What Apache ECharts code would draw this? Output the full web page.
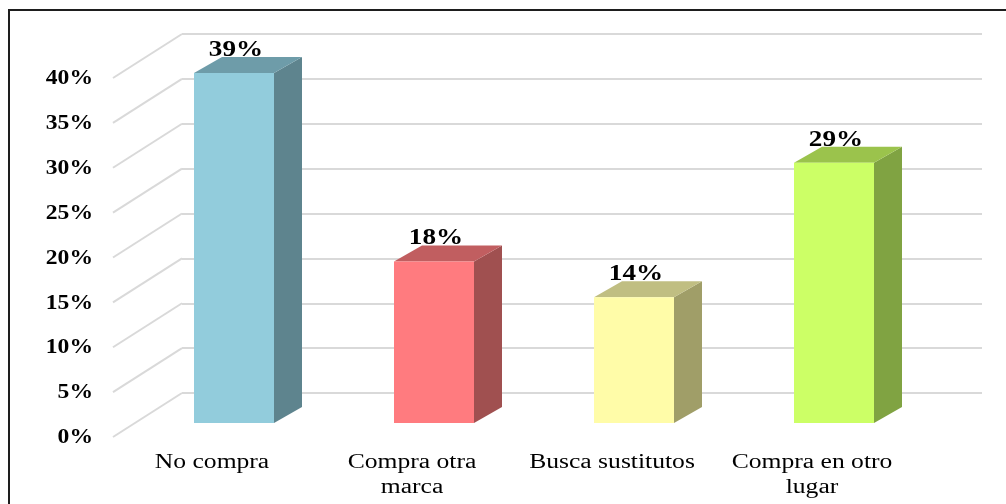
<!DOCTYPE html>
<html>
<head>
<meta charset="utf-8">
<title>Reacción ante la falta del producto</title>
<script src="https://cdn.jsdelivr.net/npm/echarts@6/dist/echarts.min.js"></script>
<style>
  html, body { margin: 0; padding: 0; background: #ffffff; }
  #chart { width: 1006px; height: 504px; }
</style>
</head>
<body>
<div id="chart"></div>
<script>
// ---- data ----
const categories = ['No compra', 'Compra otra\nmarca', 'Busca sustitutos', 'Compra en otro\nlugar'];
const values = [39, 18, 14, 29];
const yTicks = [0, 5, 10, 15, 20, 25, 30, 35, 40];

// ---- colours per bar: front face, top face, side face ----
const frontColors = ['#92CCDC', '#FF7B7F', '#FFFCA8', '#CCFF66'];
const topColors   = ['#6E9CA9', '#C15E60', '#C0BE82', '#9BC34C'];
const sideColors  = ['#5E848E', '#A05050', '#A09E68', '#80A342'];

// ---- oblique projection helpers ----
const DEPTH = [-69, 44];       // floor depth: back wall -> front edge
const BAR_FRONT = [-48, 30];   // bar front face, measured from the back wall
const BAR_SIDE = [28, -16];    // bar thickness drawn towards the back
const BAR_HALF = 0.2;          // half bar width, in category units
const GRID_COLOR = '#D9D9D9';
const SERIF = '"Liberation Serif", "Times New Roman", serif';

const chart = echarts.init(document.getElementById('chart'), null, { renderer: 'canvas' });

const option = {
  backgroundColor: '#ffffff',
  animation: false,
  graphic: [{
    type: 'rect',
    silent: true,
    shape: { x: 9, y: 10, width: 1100, height: 600 },
    style: { fill: null, stroke: '#1e1e1e', lineWidth: 2 }
  }],
  grid: [
    { left: 182, top: 34, width: 800, height: 359 },   // back wall
    { left: 113, top: 78, width: 800, height: 359 }    // front edge of the floor
  ],
  xAxis: [
    { gridIndex: 0, type: 'value', min: -0.5, max: 3.5, show: false },
    { gridIndex: 1, type: 'value', min: -0.5, max: 3.5, show: false }
  ],
  yAxis: [
    {
      gridIndex: 0, type: 'value', min: 0, max: 40, interval: 5,
      axisLine: { show: false }, axisTick: { show: false }, axisLabel: { show: false },
      splitLine: { lineStyle: { color: GRID_COLOR, width: 2 } }
    },
    { gridIndex: 1, type: 'value', min: 0, max: 40, interval: 5, show: false }
  ],
  series: [
    // floor lines running from the back wall to the axis labels
    {
      type: 'custom', xAxisIndex: 0, yAxisIndex: 0, silent: true, clip: false,
      data: yTicks.map(v => [-0.5, v]),
      renderItem: function (params, api) {
        const p = api.coord([api.value(0), api.value(1)]);
        return {
          type: 'line',
          shape: { x1: p[0], y1: p[1], x2: p[0] + DEPTH[0], y2: p[1] + DEPTH[1] },
          style: { stroke: GRID_COLOR, lineWidth: 2 }
        };
      }
    },
    // value axis labels on the front edge
    {
      type: 'custom', xAxisIndex: 1, yAxisIndex: 1, silent: true, clip: false,
      data: yTicks.map(v => [-0.5, v]),
      renderItem: function (params, api) {
        const p = api.coord([api.value(0), api.value(1)]);
        return {
          type: 'text',
          x: p[0] - 20, y: p[1] + 1,
          scaleX: 1.18,
          style: {
            text: api.value(1) + '%',
            font: 'bold 20px ' + SERIF,
            fill: '#000000',
            align: 'right', verticalAlign: 'middle'
          }
        };
      }
    },
    // category labels along the front edge
    {
      type: 'custom', xAxisIndex: 1, yAxisIndex: 1, silent: true, clip: false,
      data: categories.map((c, i) => [i, 0]),
      renderItem: function (params, api) {
        const p = api.coord([api.value(0), api.value(1)]);
        return {
          type: 'text',
          x: p[0] - 1, y: p[1] + 13,
          scaleX: 1.28,
          style: {
            text: categories[params.dataIndex],
            font: '20px ' + SERIF,
            lineHeight: 25,
            fill: '#000000',
            align: 'center', verticalAlign: 'top'
          }
        };
      }
    },
    // 3D bars with their value labels
    {
      type: 'custom', xAxisIndex: 0, yAxisIndex: 0, silent: true, clip: false,
      data: values.map((v, i) => [i, v]),
      renderItem: function (params, api) {
        const i = params.dataIndex;
        const topLeft = api.coord([api.value(0) - BAR_HALF, api.value(1)]);
        const baseRight = api.coord([api.value(0) + BAR_HALF, 0]);
        const x0 = topLeft[0] + BAR_FRONT[0];
        const yt = topLeft[1] + BAR_FRONT[1];
        const x1 = baseRight[0] + BAR_FRONT[0];
        const yb = baseRight[1] + BAR_FRONT[1];
        const dx = BAR_SIDE[0], dy = BAR_SIDE[1];
        return {
          type: 'group',
          children: [
            {
              type: 'polygon',
              shape: { points: [[x1, yt], [x1 + dx, yt + dy], [x1 + dx, yb + dy], [x1, yb]] },
              style: { fill: sideColors[i] }
            },
            {
              type: 'polygon',
              shape: { points: [[x0, yt], [x1, yt], [x1 + dx, yt + dy], [x0 + dx, yt + dy]] },
              style: { fill: topColors[i] }
            },
            {
              type: 'rect',
              shape: { x: x0, y: yt, width: x1 - x0, height: yb - yt },
              style: { fill: frontColors[i] }
            },
            {
              type: 'text',
              x: (x0 + x1) / 2 + 2, y: yt - 23,
              scaleX: 1.18,
              style: {
                text: api.value(1) + '%',
                font: 'bold 23px ' + SERIF,
                fill: '#000000',
                align: 'center', verticalAlign: 'middle'
              }
            }
          ]
        };
      }
    }
  ]
};

chart.setOption(option);
</script>
</body>
</html>
